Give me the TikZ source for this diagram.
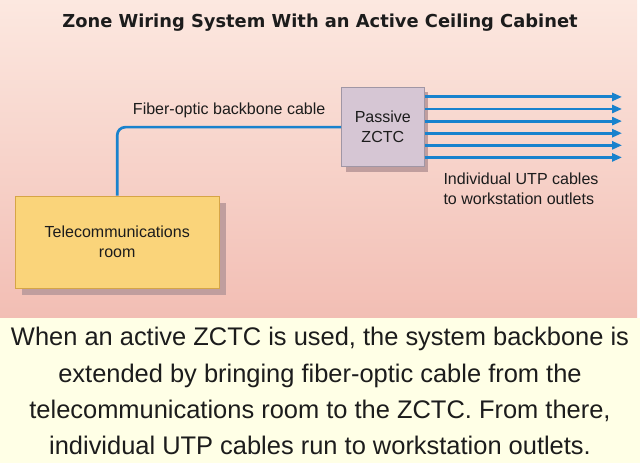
\documentclass[tikz,border=0pt]{standalone}
\usepackage{fontspec}
\setmainfont{Liberation Sans}
\newfontfamily\titlefont{DejaVu Sans}
\usepackage{tikz}
\usetikzlibrary{positioning}
\usetikzlibrary{arrows.meta}
\usetikzlibrary{shadows}
\usepackage{xcolor}
\definecolor{fiberblue}{RGB}{25,130,205}
\definecolor{roomfill}{RGB}{250,212,122}
\definecolor{roomedge}{RGB}{214,165,70}
\definecolor{zctcfill}{RGB}{214,198,212}
\definecolor{zctcedge}{RGB}{160,150,165}
\definecolor{shadowpink}{RGB}{192,158,158}
\definecolor{pinktop}{RGB}{252,232,224}
\definecolor{pinkbot}{RGB}{242,190,180}
\definecolor{paleyellow}{RGB}{255,255,230}
\definecolor{inkgrey}{RGB}{28,28,28}

\begin{document}
\begin{tikzpicture}[node distance=1cm,on grid,>={Triangle[length=7pt,width=5.6pt]},
    every node/.style={text=inkgrey},
    cable/.style={draw=fiberblue,line width=1.9pt},
    utpline/.style={draw=fiberblue,line width=2.1pt},
    lbl/.style={font=\fontsize{11.4}{14.2}\selectfont,align=center,inner sep=0pt}]
        \useasboundingbox (0,0) rectangle (16,-11.575);
        \fill[white] (0,0) rectangle (16,-7.95);
        \shade[top color=pinktop,bottom color=pinkbot] (0,0) rectangle (15.925,-7.95);
        \fill[paleyellow] (0,-7.95) rectangle (16,-11.575);

        \node[font=\titlefont\bfseries\fontsize{12.7}{15}\selectfont] (title) at (8,-0.5625) {Zone Wiring System With an Active Ceiling Cabinet};

        \node[lbl,draw=roomedge,fill=roomfill,line width=0.7pt,minimum width=5.09cm,minimum height=2.3cm,
              drop shadow={shadow xshift=0.175cm,shadow yshift=-0.175cm,fill=shadowpink,opacity=1}] (room) at (2.931,-6.05) {Telecommunications\\room};
        \node[lbl,draw=zctcedge,fill=zctcfill,line width=0.7pt,minimum width=2.06cm,minimum height=1.99cm,
              drop shadow={shadow xshift=0.1cm,shadow yshift=-0.125cm,fill=shadowpink,opacity=1}] (zctc) [above right=2.871cm and 6.64cm of room] {Passive\\ZCTC};

        \node[lbl,align=left] (utp) [below right=1.546cm and 3.454cm of zctc] {Individual UTP cables\\to workstation outlets};

        \coordinate[right=5.98cm of zctc, yshift=0.756cm] (u1);
        \coordinate[right=5.98cm of zctc, yshift=0.454cm] (u2);
        \coordinate[right=5.98cm of zctc, yshift=0.151cm] (u3);
        \coordinate[right=5.98cm of zctc, yshift=-0.151cm] (u4);
        \coordinate[right=5.98cm of zctc, yshift=-0.454cm] (u5);
        \coordinate[right=5.98cm of zctc, yshift=-0.756cm] (u6);

        \node[font=\fontsize{18.1}{25.8}\selectfont,align=center,inner sep=0pt] (note) at (8,-9.78) {When an active ZCTC is used, the system backbone is\\extended by bringing fiber-optic cable from the\\telecommunications room to the ZCTC. From there,\\individual UTP cables run to workstation outlets.};

        \draw [cable,rounded corners=0.2cm]
          (room) |- node[lbl,pos=0.75,above=0.19cm] {Fiber-optic backbone cable} (zctc);

        \path [->]
          (zctc.east |- u1) edge [utpline] (u1)
          (zctc.east |- u2) edge [utpline] (u2)
          (zctc.east |- u3) edge [utpline] (u3)
          (zctc.east |- u4) edge [utpline] (u4)
          (zctc.east |- u5) edge [utpline] (u5)
          (zctc.east |- u6) edge [utpline] (u6);

\end{tikzpicture}
\end{document}
